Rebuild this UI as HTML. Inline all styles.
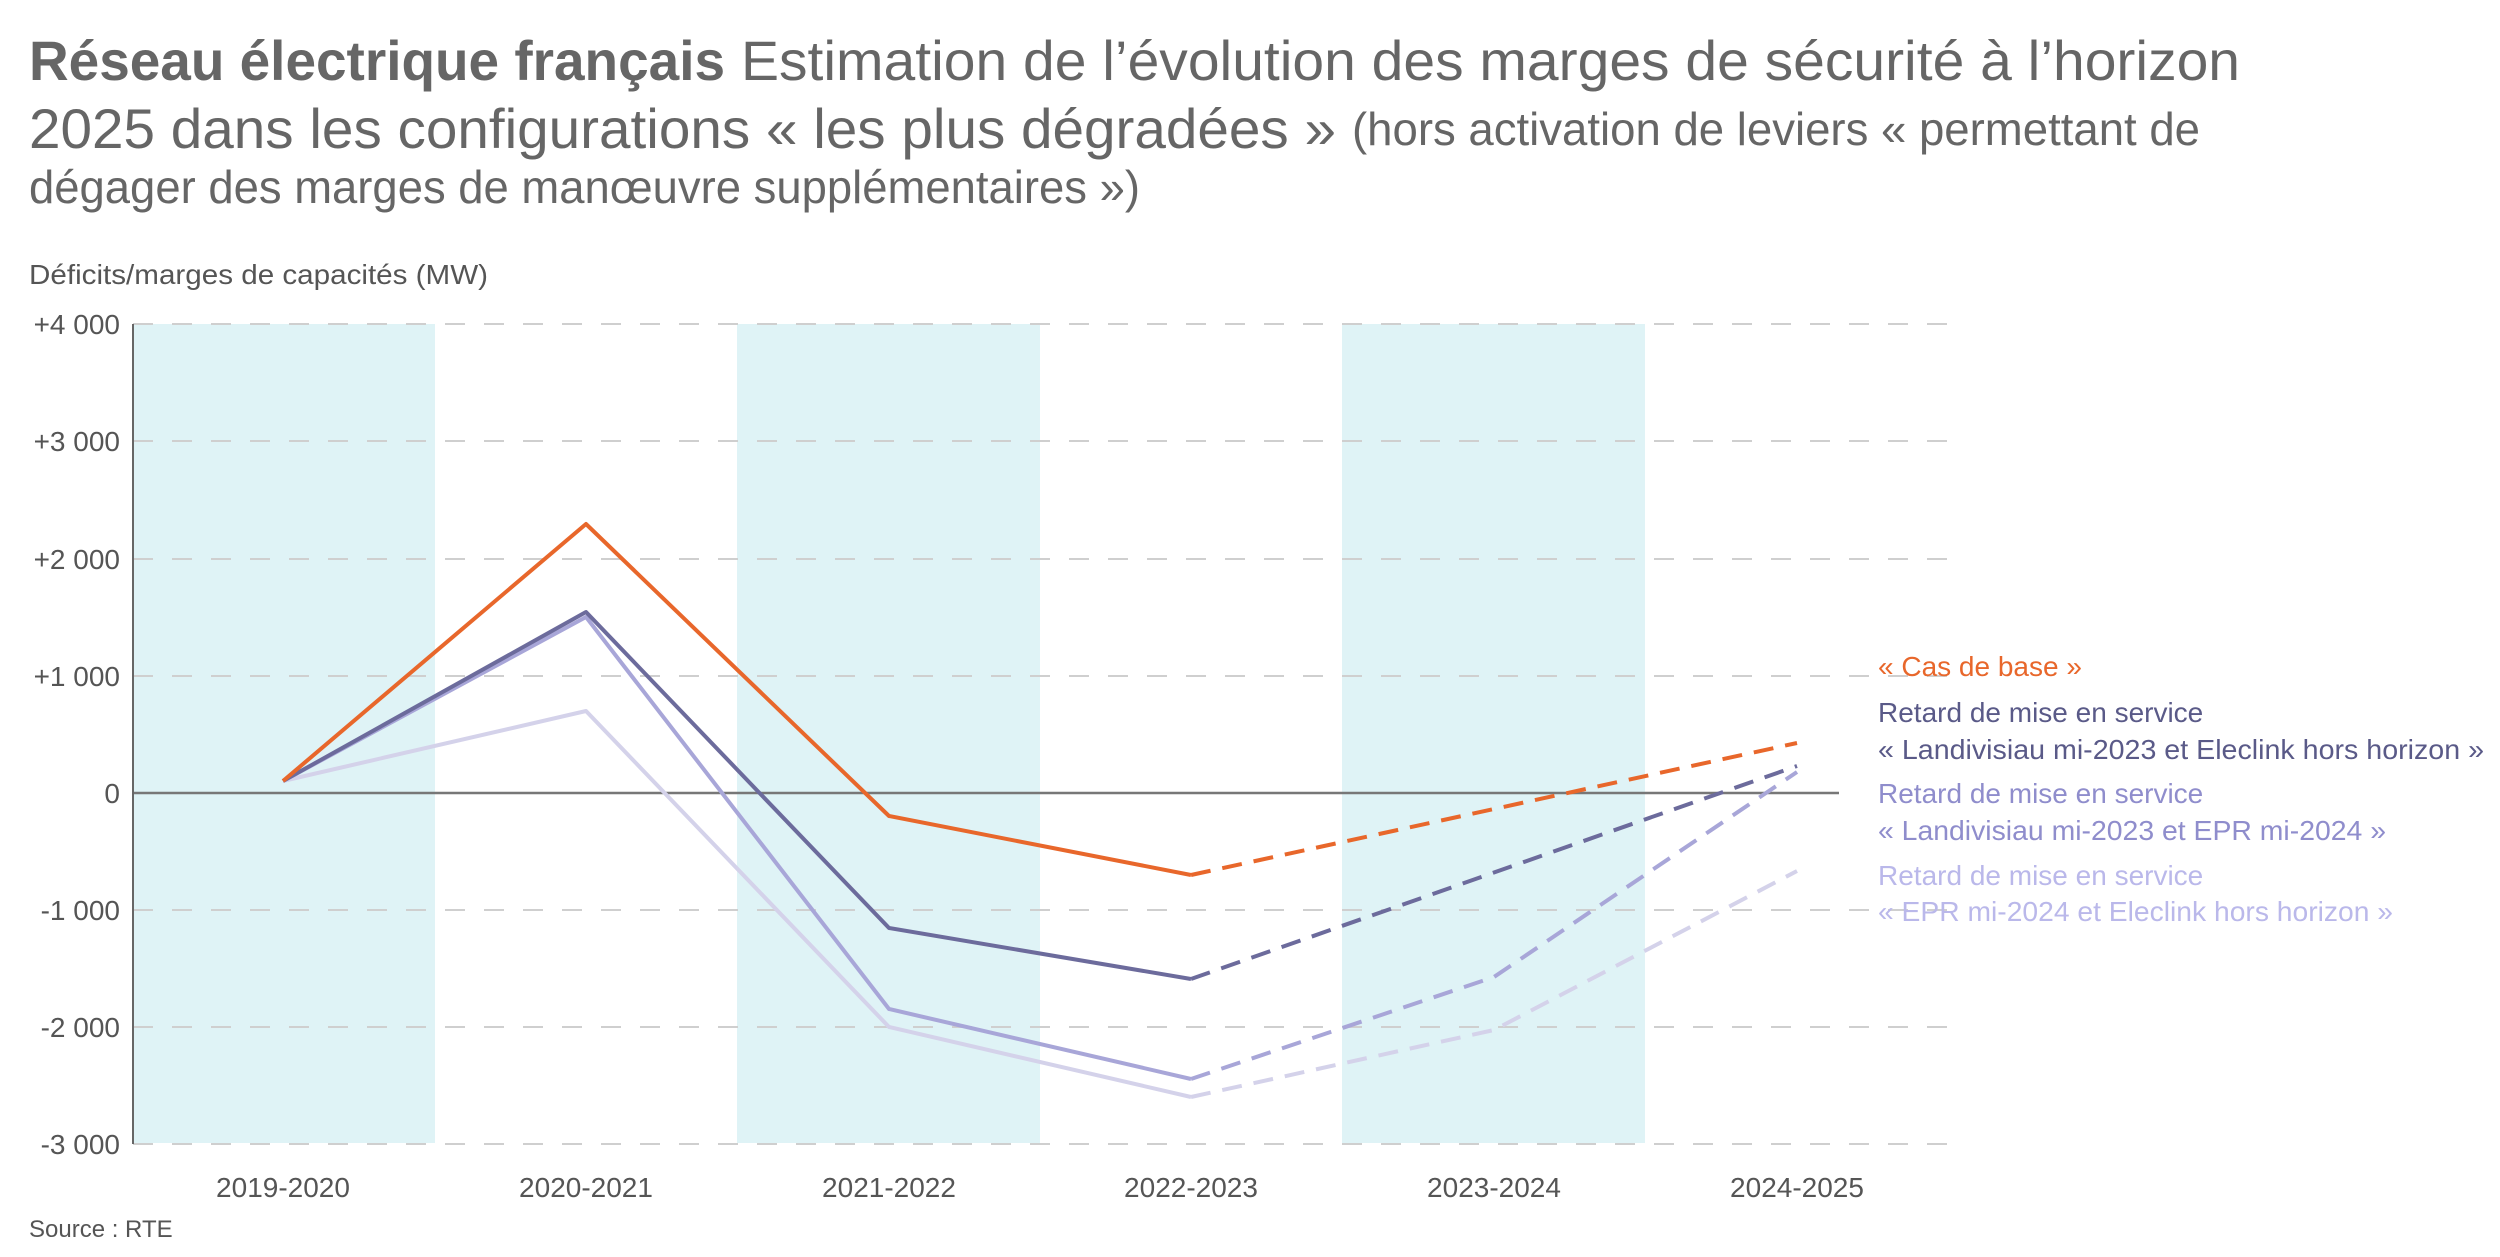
<!DOCTYPE html>
<html><head><meta charset="utf-8"><style>
html,body{margin:0;padding:0;background:#fff;}
svg{display:block;font-family:"Liberation Sans",sans-serif;}
</style></head><body>
<svg width="2500" height="1257" viewBox="0 0 2500 1257" xmlns="http://www.w3.org/2000/svg">
<!-- title -->
<text x="29" y="80" font-size="56" fill="#666" textLength="696" lengthAdjust="spacingAndGlyphs" font-weight="bold">Réseau électrique français</text>
<text x="741" y="80" font-size="56" fill="#666" textLength="1499" lengthAdjust="spacingAndGlyphs">Estimation de l’évolution des marges de sécurité à l’horizon</text>
<text x="29" y="148" font-size="56" fill="#666" textLength="1307" lengthAdjust="spacingAndGlyphs">2025 dans les configurations « les plus dégradées »</text>
<text x="1352" y="145" font-size="46" fill="#666" textLength="848" lengthAdjust="spacingAndGlyphs">(hors activation de leviers « permettant de</text>
<text x="29" y="203" font-size="46" fill="#666" textLength="1111" lengthAdjust="spacingAndGlyphs">dégager des marges de manœuvre supplémentaires »)</text>
<text x="29" y="284" font-size="28" fill="#555" textLength="459" lengthAdjust="spacingAndGlyphs">Déficits/marges de capacités (MW)</text>
<!-- bands -->
<g fill="#dff3f6">
<rect x="133" y="324" width="302" height="819"/>
<rect x="737" y="324" width="303" height="819"/>
<rect x="1342" y="324" width="303" height="819"/>
</g>
<!-- grid -->
<g stroke="#cfcfcf" stroke-width="2" stroke-dasharray="20 19">
<line x1="133" y1="324" x2="1948" y2="324"/>
<line x1="133" y1="441" x2="1948" y2="441"/>
<line x1="133" y1="559" x2="1948" y2="559"/>
<line x1="133" y1="676" x2="1948" y2="676"/>
<line x1="133" y1="910" x2="1948" y2="910"/>
<line x1="133" y1="1027" x2="1948" y2="1027"/>
<line x1="133" y1="1144" x2="1948" y2="1144"/>
</g>
<line x1="133" y1="793" x2="1839" y2="793" stroke="#777" stroke-width="2.5"/>
<line x1="133" y1="324" x2="133" y2="1144" stroke="#666" stroke-width="2"/>
<!-- y labels -->
<g font-size="28" fill="#555" text-anchor="end">
<text x="120" y="334">+4 000</text>
<text x="120" y="451">+3 000</text>
<text x="120" y="569">+2 000</text>
<text x="120" y="686">+1 000</text>
<text x="120" y="803">0</text>
<text x="120" y="920">-1 000</text>
<text x="120" y="1037">-2 000</text>
<text x="120" y="1154">-3 000</text>
</g>
<!-- x labels -->
<g font-size="28" fill="#555" text-anchor="middle">
<text x="283" y="1197">2019-2020</text>
<text x="586" y="1197">2020-2021</text>
<text x="889" y="1197">2021-2022</text>
<text x="1191" y="1197">2022-2023</text>
<text x="1494" y="1197">2023-2024</text>
<text x="1797" y="1197">2024-2025</text>
</g>
<text x="29" y="1237" font-size="24" fill="#555">Source : RTE</text>
<!-- series -->
<g fill="none" stroke-width="4" stroke-linejoin="round">
<polyline stroke="#d4d2ea" points="283,781 586,711 889,1027 1191,1097"/>
<polyline stroke="#d4d2ea" stroke-dasharray="20 12" points="1191,1097 1494,1030 1797,871"/>
<polyline stroke="#a8a6d8" points="283,781 586,617 889,1009 1191,1079"/>
<polyline stroke="#a8a6d8" stroke-dasharray="20 12" points="1191,1079 1494,977 1797,772"/>
<polyline stroke="#6c6b9c" points="283,781 586,612 889,928 1191,979"/>
<polyline stroke="#6c6b9c" stroke-dasharray="20 12" points="1191,979 1797,766"/>
<polyline stroke="#e8672b" points="283,781 586,524 889,816 1191,875"/>
<polyline stroke="#e8672b" stroke-dasharray="20 12" points="1191,875 1797,743"/>
</g>
<!-- legend -->
<g font-size="28">
<text x="1878" y="676" fill="#e8672b">« Cas de base »</text>
<text x="1878" y="722" fill="#5a5a88">Retard de mise en service</text>
<text x="1878" y="759" fill="#5a5a88" textLength="606" lengthAdjust="spacingAndGlyphs">« Landivisiau mi-2023 et Eleclink hors horizon »</text>
<text x="1878" y="803" fill="#8f8dcc">Retard de mise en service</text>
<text x="1878" y="840" fill="#8f8dcc" textLength="508" lengthAdjust="spacingAndGlyphs">« Landivisiau mi-2023 et EPR mi-2024 »</text>
<text x="1878" y="885" fill="#bab8ea">Retard de mise en service</text>
<text x="1878" y="921" fill="#bab8ea" textLength="515" lengthAdjust="spacingAndGlyphs">« EPR mi-2024 et Eleclink hors horizon »</text>
</g>
</svg>
</body></html>
